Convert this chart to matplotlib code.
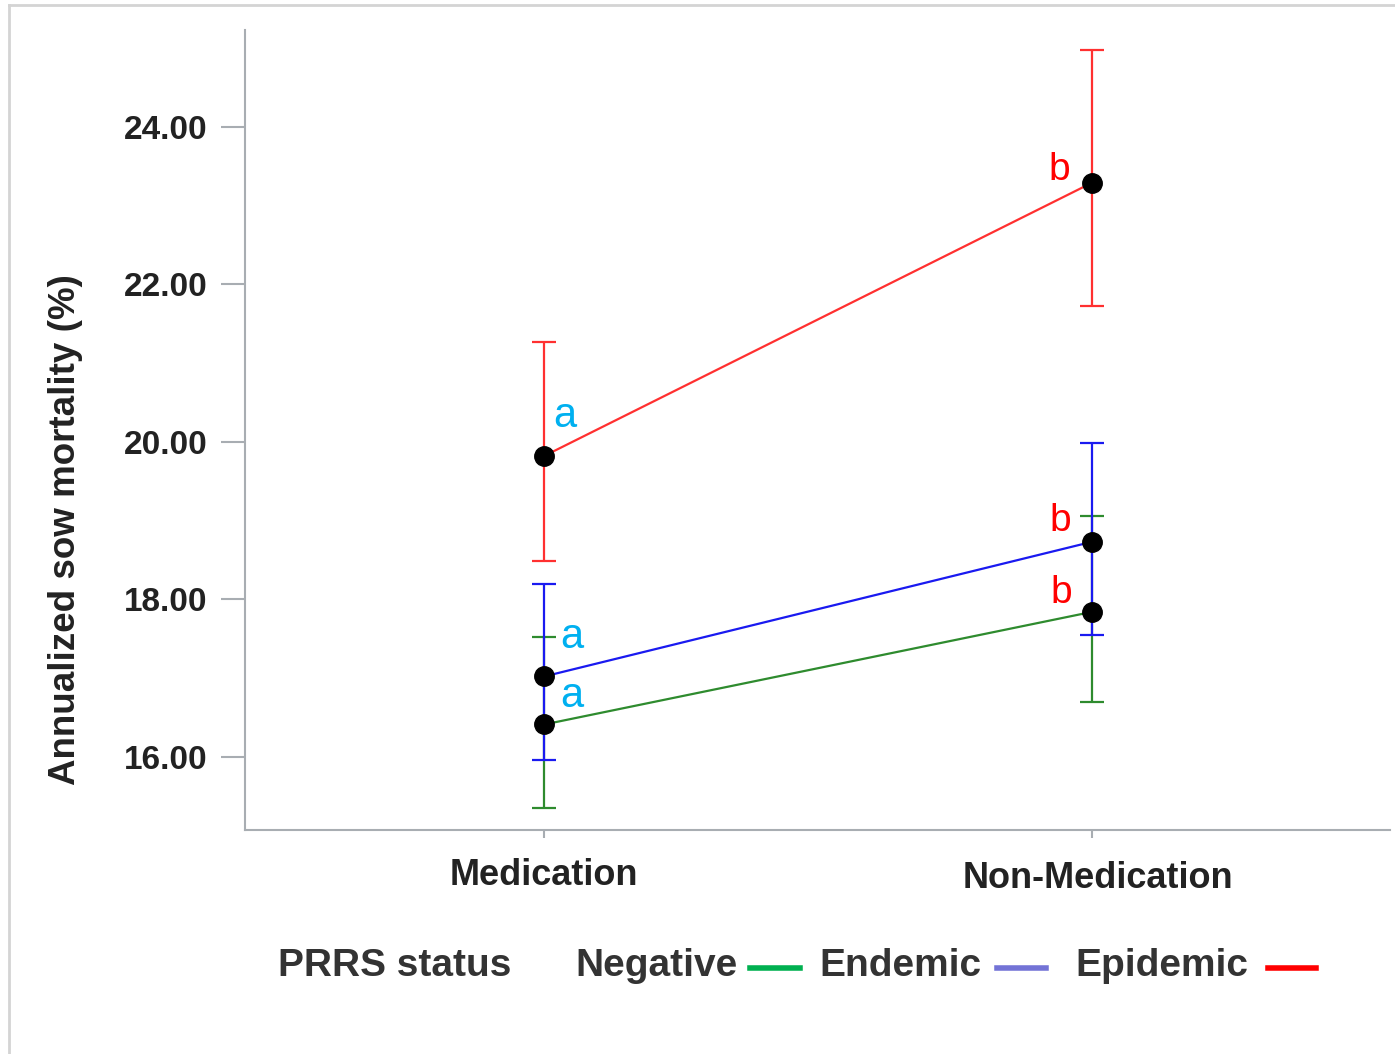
import matplotlib
matplotlib.use("Agg")
import matplotlib.pyplot as plt
from matplotlib.lines import Line2D
import matplotlib.transforms as mtransforms

plt.rcParams['font.family'] = ['Liberation Sans', 'DejaVu Sans']

categories = ["Medication", "Non-Medication"]
series_names = ["Negative", "Endemic", "Epidemic"]
negative_mean = [16.41, 17.84]
negative_low = [15.35, 16.69]
negative_high = [17.52, 19.06]
endemic_mean = [17.02, 18.73]
endemic_low = [15.96, 17.55]
endemic_high = [18.20, 19.99]
epidemic_mean = [19.82, 23.29]
epidemic_low = [18.48, 21.73]
epidemic_high = [21.27, 24.97]
letters_med = ["a", "a", "a"]
letters_nonmed = ["b", "b", "b"]
yticks = [16.0, 18.0, 20.0, 22.0, 24.0]

line_colors = ["#2E8B2E", "#1A1AF0", "#FF3030"]
legend_colors = ["#00B050", "#7373D6", "#FF0000"]

W, H = 1395, 1054
fig = plt.figure(figsize=(W / 100, H / 100), dpi=100)
ax = fig.add_axes([245 / W, 1 - 830 / H, (1390 - 245) / W, 800 / H])

x = list(range(len(categories)))
means = [negative_mean, endemic_mean, epidemic_mean]
lows = [negative_low, endemic_low, epidemic_low]
highs = [negative_high, endemic_high, epidemic_high]

for m, lo, hi, c in zip(means, lows, highs, line_colors):
    yerr = [[mi - l for mi, l in zip(m, lo)], [h - mi for mi, h in zip(m, hi)]]
    ax.errorbar(x, m, yerr=yerr, fmt='none', ecolor=c, elinewidth=1.6,
                capsize=8.5, capthick=1.6, zorder=2)
    ax.plot(x, m, color=c, lw=1.6, zorder=3)
    ax.plot(x, m, 'o', color='black', ms=14, zorder=4)

# significance letters
med_offsets = [(28, 28), (28, 39), (21, 40)]
nonmed_offsets = [(-31, 19), (-32, 21), (-33, 13)]
for i, m in enumerate(means):
    ax.annotate(letters_med[i], (x[0], m[0]), xytext=med_offsets[i],
                textcoords='offset pixels', color='#00B0F0', fontsize=30,
                ha='center', va='center', zorder=5)
    ax.annotate(letters_nonmed[i], (x[1], m[1]), xytext=nonmed_offsets[i],
                textcoords='offset pixels', color='#FF0000', fontsize=28,
                ha='center', va='center', zorder=5)

ax.set_xlim(-0.546, 1.544)
ax.set_ylim(15.07, 25.23)
ax.set_yticks(yticks)
ax.set_yticklabels([f"{v:.2f}" for v in yticks], fontsize=24, fontweight='bold', color='#222222')
ax.set_xticks(x)
ax.set_xticklabels(categories, fontsize=26, fontweight='bold', color='#222222')
ax.tick_params(axis='y', length=17, width=1.5, color='#A8ADB2', pad=10)
ax.tick_params(axis='x', length=6, width=1.5, color='#A8ADB2', pad=14)
# Non-Medication label sits slightly right and lower in the reference
lbls = ax.get_xticklabels()
lbls[1].set_transform(lbls[1].get_transform() +
                      mtransforms.ScaledTranslation(6 / 100, -3 / 100, fig.dpi_scale_trans))
for s in ['top', 'right']:
    ax.spines[s].set_visible(False)
for s in ['left', 'bottom']:
    ax.spines[s].set_color('#A8ADB2')
    ax.spines[s].set_linewidth(1.5)

fig.text(66 / W, 1 - 530 / H, "Annualized sow mortality (%)", rotation=90,
         ha='center', va='center', fontsize=26.5, fontweight='bold', color='#222222')

# legend (manual, text then line)
ly = 1 - 966 / H
fig.text(278 / W, ly, "PRRS status", ha='left', va='center', fontsize=28,
         fontweight='bold', color='#333333')
text_x = [575, 819, 1075]
line_x = [(750, 800), (997, 1046), (1268, 1316)]
for name, tx, (l0, l1), c in zip(series_names, text_x, line_x, legend_colors):
    fig.text(tx / W, ly, name, ha='left', va='center', fontsize=28,
             fontweight='bold', color='#333333')
    fig.add_artist(Line2D([l0 / W, l1 / W], [1 - 968 / H, 1 - 968 / H],
                          color=c, lw=4, transform=fig.transFigure))

# outer frame (top and left edges)
fig.add_artist(Line2D([9 / W, 9 / W], [0, 1 - 5 / H], color='#D4D4D4', lw=2,
                      transform=fig.transFigure))
fig.add_artist(Line2D([9 / W, 1], [1 - 5 / H, 1 - 5 / H], color='#D4D4D4', lw=2,
                      transform=fig.transFigure))

fig.savefig("out.png", dpi=100)
